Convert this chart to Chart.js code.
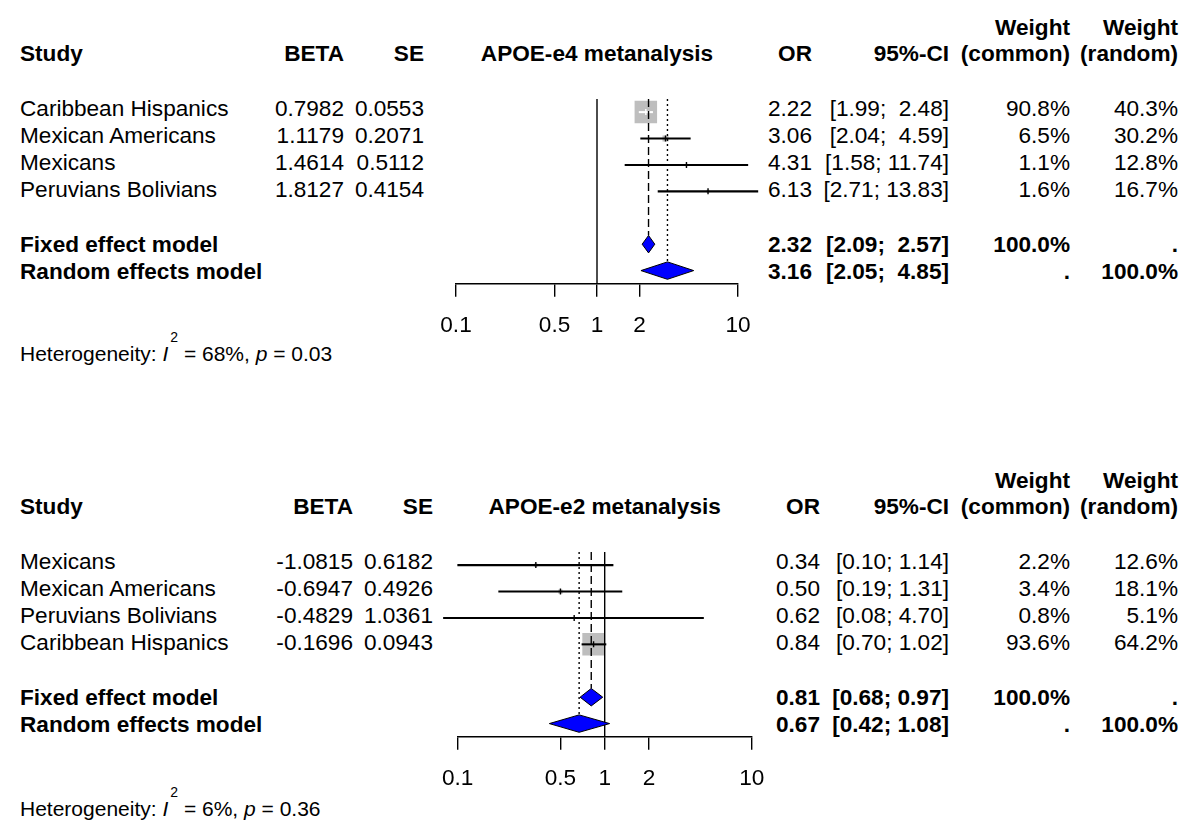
<!DOCTYPE html>
<html>
<head>
<meta charset="utf-8">
<title>APOE meta-analysis forest plots</title>
<script src="https://cdn.jsdelivr.net/npm/chart.js@4.4.0/dist/chart.umd.min.js"></script>
<style>
  body { margin: 0; background: #fff; }
  #page {
    position: relative; width: 1200px; height: 837px; overflow: hidden;
    font-family: "Liberation Sans", Arial, sans-serif; font-size: 22.6px; color: #000;
  }
  .t { position: absolute; white-space: pre; line-height: 27px; }
  .b { font-weight: bold; }
  .het { font-size: 21px; }
  .het sup { font-size: 14px; line-height: 14px; position: relative; top: -10px; vertical-align: top; margin-left: 2px; }
  canvas { position: absolute; }
</style>
</head>
<body>
<div id="page"></div>
<script>
// x axis ticks
const tickValues = [0.1, 0.5, 1, 2, 10];
const tickLabels = ['0.1', '0.5', '1', '2', '10'];

// APOE-e4 panel
const e4Studies = ['Caribbean Hispanics', 'Mexican Americans', 'Mexicans', 'Peruvians Bolivians'];
const e4Beta = [0.7982, 1.1179, 1.4614, 1.8127];
const e4Se = [0.0553, 0.2071, 0.5112, 0.4154];
const e4Or = [2.22, 3.06, 4.31, 6.13];
const e4Lower = [1.99, 2.04, 1.58, 2.71];
const e4Upper = [2.48, 4.59, 11.74, 13.83];
const e4WeightCommon = [90.8, 6.5, 1.1, 1.6];
const e4WeightRandom = [40.3, 30.2, 12.8, 16.7];
const e4Fixed = [2.32, 2.09, 2.57];   // OR, lower, upper
const e4Random = [3.16, 2.05, 4.85];
const e4Het = ['68%', '0.03'];

// APOE-e2 panel
const e2Studies = ['Mexicans', 'Mexican Americans', 'Peruvians Bolivians', 'Caribbean Hispanics'];
const e2Beta = [-1.0815, -0.6947, -0.4829, -0.1696];
const e2Se = [0.6182, 0.4926, 1.0361, 0.0943];
const e2Or = [0.34, 0.50, 0.62, 0.84];
const e2Lower = [0.10, 0.19, 0.08, 0.70];
const e2Upper = [1.14, 1.31, 4.70, 1.02];
const e2WeightCommon = [2.2, 3.4, 0.8, 93.6];
const e2WeightRandom = [12.6, 18.1, 5.1, 64.2];
const e2Fixed = [0.81, 0.68, 0.97];
const e2Random = [0.67, 0.42, 1.08];
const e2Het = ['6%', '0.36'];

const ROW = 27.2;          // row spacing in px
const MAX_SIDE = 22.5;     // side of the biggest square
const DIAMOND_H = 0.33;    // half height of diamond, in rows
const FONT = '"Liberation Sans", Arial, sans-serif';

const panels = [
    {
        title: 'APOE-e4 metanalysis', rowTop: 107, plotLeft: 456, plotRight: 738, hetY: 353.5,
        cols: { beta: 344, se: 424, or: 812, ci: 949, wc: 1070, wr: 1178 },
        studies: e4Studies, beta: e4Beta, se: e4Se, or: e4Or, lo: e4Lower, hi: e4Upper,
        wc: e4WeightCommon, wr: e4WeightRandom, fixed: e4Fixed, random: e4Random, het: e4Het
    },
    {
        title: 'APOE-e2 metanalysis', rowTop: 560, plotLeft: 457.7, plotRight: 751.7, hetY: 808,
        cols: { beta: 353, se: 433, or: 820, ci: 949, wc: 1070, wr: 1178 },
        studies: e2Studies, beta: e2Beta, se: e2Se, or: e2Or, lo: e2Lower, hi: e2Upper,
        wc: e2WeightCommon, wr: e2WeightRandom, fixed: e2Fixed, random: e2Random, het: e2Het
    }
];

const page = document.getElementById('page');

// text helper: y is the vertical centre of the capitals
function addText(text, opts) {
    const el = document.createElement('div');
    el.className = 't' + (opts.bold ? ' b' : '') + (opts.cls ? ' ' + opts.cls : '');
    if (opts.html) el.innerHTML = text; else el.textContent = text;
    el.style.top = (opts.y - 13.2) + 'px';
    if (opts.right !== undefined) {
        el.style.right = (1200 - opts.right) + 'px';
        el.style.textAlign = 'right';
    } else if (opts.center !== undefined) {
        el.style.left = opts.center + 'px';
        el.style.transform = 'translateX(-50%)';
    } else {
        el.style.left = opts.left + 'px';
    }
    page.appendChild(el);
}

function drawText(p) {
    const c = p.cols;
    const rowY = i => p.rowTop + i * ROW + 1;
    const head2 = rowY(0) - 54.5;
    const head1 = head2 - 26.8;
    const xOne = p.plotLeft + (p.plotRight - p.plotLeft) / 2;

    addText('Weight', { right: c.wc, y: head1, bold: true });
    addText('Weight', { right: c.wr, y: head1, bold: true });
    addText('Study', { left: 20, y: head2, bold: true });
    addText('BETA', { right: c.beta, y: head2, bold: true });
    addText('SE', { right: c.se, y: head2, bold: true });
    addText(p.title, { center: xOne, y: head2, bold: true });
    addText('OR', { right: c.or, y: head2, bold: true });
    addText('95%-CI', { right: c.ci, y: head2, bold: true });
    addText('(common)', { right: c.wc, y: head2, bold: true });
    addText('(random)', { right: c.wr, y: head2, bold: true });

    const allLo = p.lo.concat([p.fixed[1], p.random[1]]).map(v => v.toFixed(2));
    const allHi = p.hi.concat([p.fixed[2], p.random[2]]).map(v => v.toFixed(2));
    const loW = Math.max(...allLo.map(s => s.length));
    const hiW = Math.max(...allHi.map(s => s.length));
    const ci = (lo, hi) => '[' + lo.toFixed(2).padStart(loW) + '; ' + hi.toFixed(2).padStart(hiW) + ']';

    p.studies.forEach((name, i) => {
        const y = rowY(i);
        addText(name, { left: 20, y: y });
        addText(p.beta[i].toFixed(4), { right: c.beta, y: y });
        addText(p.se[i].toFixed(4), { right: c.se, y: y });
        addText(p.or[i].toFixed(2), { right: c.or, y: y });
        addText(ci(p.lo[i], p.hi[i]), { right: c.ci, y: y });
        addText(p.wc[i].toFixed(1) + '%', { right: c.wc, y: y });
        addText(p.wr[i].toFixed(1) + '%', { right: c.wr, y: y });
    });

    const models = [['Fixed effect model', p.fixed, '100.0%', '.'], ['Random effects model', p.random, '.', '100.0%']];
    models.forEach((m, k) => {
        const y = rowY(5 + k);
        addText(m[0], { left: 20, y: y, bold: true });
        addText(m[1][0].toFixed(2), { right: c.or, y: y, bold: true });
        addText(ci(m[1][1], m[1][2]), { right: c.ci, y: y, bold: true });
        addText(m[2], { right: c.wc, y: y, bold: true });
        addText(m[3], { right: c.wr, y: y, bold: true });
    });

    addText('Heterogeneity: <i>I</i><sup>2</sup> = ' + p.het[0] + ', <i>p</i> = ' + p.het[1],
        { left: 20, y: p.hetY, html: true, cls: 'het' });
}

function drawPlot(p) {
    const AXIS_H = 60, PAD_X = 40, CANVAS_H = 290;
    const areaTop = p.rowTop - ROW / 2;
    const areaH = ROW * 7;
    const canvasTop = Math.floor(areaTop) - 10;
    const canvasLeft = Math.floor(p.plotLeft) - PAD_X;
    const canvasW = Math.ceil(p.plotRight) + PAD_X - canvasLeft;
    const padLeft = p.plotLeft - canvasLeft;
    const padRight = canvasW - padLeft - (p.plotRight - p.plotLeft);
    const padTop = areaTop - canvasTop;
    const padBottom = CANVAS_H - padTop - areaH - AXIS_H;

    const canvas = document.createElement('canvas');
    canvas.width = canvasW;
    canvas.height = CANVAS_H;
    canvas.style.left = canvasLeft + 'px';
    canvas.style.top = canvasTop + 'px';
    canvas.style.width = canvasW + 'px';
    canvas.style.height = CANVAS_H + 'px';
    page.appendChild(canvas);

    const wMax = Math.max(...p.wc);
    const sides = p.wc.map(w => MAX_SIDE * Math.sqrt(w / wMax));

    // CI drawn white when it lies fully inside its square
    function ciColor(ctx) {
        const i = ctx.dataIndex;
        if (i === undefined) return '#000';
        const xs = ctx.chart.scales.x;
        const c = xs.getPixelForValue(p.or[i]);
        const half = sides[i] / 2;
        const inside = xs.getPixelForValue(p.lo[i]) >= c - half && xs.getPixelForValue(p.hi[i]) <= c + half;
        return inside ? '#fff' : '#000';
    }

    function diamond(est, row) {
        return [
            { x: est[1], y: row }, { x: est[0], y: row - DIAMOND_H },
            { x: est[2], y: row }, { x: est[0], y: row + DIAMOND_H },
            { x: est[1], y: row }
        ];
    }

    const rows = p.studies.map((_, i) => i);

    const datasets = [
        {
            // weight squares
            type: 'scatter',
            data: rows.map(i => ({ x: p.or[i], y: i })),
            pointStyle: 'rect',
            pointRadius: sides.map(s => s / Math.SQRT2),
            backgroundColor: '#bebebe',
            borderWidth: 0,
            order: 6
        },
        {
            // confidence intervals
            type: 'bar',
            indexAxis: 'y',
            data: rows.map(i => ({ y: i, x: [p.lo[i], p.hi[i]] })),
            barThickness: 1.4,
            backgroundColor: ciColor,
            borderWidth: 0,
            clip: false,
            order: 5
        },
        {
            // point estimate marks
            type: 'scatter',
            data: rows.map(i => ({ x: p.or[i], y: i })),
            pointStyle: 'line',
            rotation: 90,
            pointRadius: 3,
            borderColor: ciColor,
            borderWidth: 1.4,
            order: 4
        },
        {
            // line of no effect
            type: 'scatter', showLine: true,
            data: [{ x: 1, y: -0.5 }, { x: 1, y: 6.5 }],
            borderColor: '#000', borderWidth: 1.4, pointRadius: 0,
            order: 3
        },
        {
            // fixed effect estimate
            type: 'scatter', showLine: true,
            data: [{ x: p.fixed[0], y: -0.5 }, { x: p.fixed[0], y: 5 - DIAMOND_H }],
            borderColor: '#000', borderWidth: 1.4, borderDash: [8, 4], pointRadius: 0,
            order: 3
        },
        {
            // random effects estimate
            type: 'scatter', showLine: true,
            data: [{ x: p.random[0], y: -0.5 }, { x: p.random[0], y: 6 - DIAMOND_H }],
            borderColor: '#000', borderWidth: 1.4, borderDash: [2, 3], pointRadius: 0,
            order: 3
        },
        {
            type: 'scatter', showLine: true,
            data: diamond(p.fixed, 5),
            borderColor: '#000', borderWidth: 1, backgroundColor: '#0000ff',
            fill: 'shape', pointRadius: 0, tension: 0,
            order: 1
        },
        {
            type: 'scatter', showLine: true,
            data: diamond(p.random, 6),
            borderColor: '#000', borderWidth: 1, backgroundColor: '#0000ff',
            fill: 'shape', pointRadius: 0, tension: 0,
            order: 1
        }
    ];

    new Chart(canvas, {
        type: 'scatter',
        data: { datasets: datasets },
        options: {
            responsive: false,
            animation: false,
            events: [],
            layout: { padding: { left: padLeft, right: padRight, top: padTop, bottom: padBottom } },
            plugins: { legend: { display: false }, tooltip: { enabled: false } },
            scales: {
                x: {
                    type: 'logarithmic',
                    min: 0.1,
                    max: 10,
                    offset: false,
                    afterBuildTicks: scale => { scale.ticks = tickValues.map(v => ({ value: v })); },
                    afterFit: scale => { scale.height = AXIS_H; },
                    ticks: {
                        autoSkip: false,
                        maxRotation: 0,
                        padding: 15,
                        color: '#000',
                        font: { family: FONT, size: 22.6 },
                        callback: (value, index) => tickLabels[index]
                    },
                    grid: { drawOnChartArea: false, drawTicks: true, tickLength: 13, color: '#000', lineWidth: 1.4 },
                    border: { display: true, color: '#000', width: 1.4 }
                },
                y: {
                    type: 'linear',
                    min: -0.5,
                    max: 6.5,
                    offset: false,
                    reverse: true,
                    display: false
                }
            }
        }
    });
}

panels.forEach(p => {
    drawText(p);
    drawPlot(p);
});
</script>
</body>
</html>
